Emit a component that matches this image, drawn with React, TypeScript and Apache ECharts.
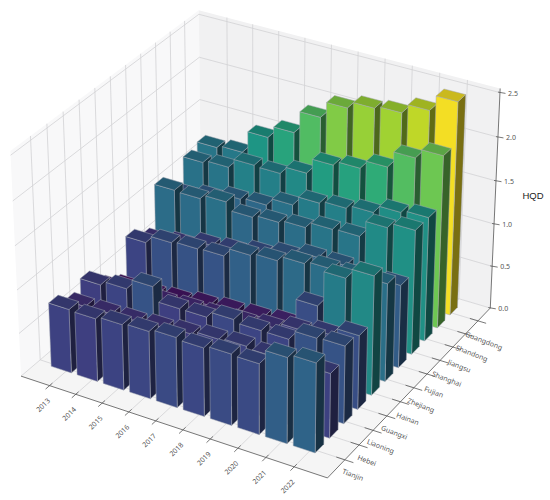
import React, { useEffect, useRef } from "react";
import * as echarts from "echarts";

const years = ["2013", "2014", "2015", "2016", "2017", "2018", "2019", "2020", "2021", "2022"];
const provinces = ["Tianjin", "Hebei", "Liaoning", "Guangxi", "Hainan", "Zhejiang", "Fujian", "Shanghai", "Jiangsu", "Shandong", "Guangdong"];
const zTicks = [0, 0.5, 1, 1.5, 2, 2.5];

const tianjin = [0.74, 0.73, 0.76, 0.78, 0.81, 0.79, 0.82, 0.81, 0.98, 1.02];
const hebei = [0.62, 0.63, 0.64, 0.66, 0.69, 0.73, 0.75, 0.73, 0.72, 0.74];
const liaoning = [0.72, 0.77, 0.89, 0.73, 0.73, 0.8, 0.77, 0.77, 0.88, 0.89];
const guangxi = [0.52, 0.53, 0.55, 0.57, 0.58, 0.6, 0.64, 0.71, 0.76, 0.85];
const hainan = [0.38, 0.4, 0.42, 0.46, 0.49, 0.51, 0.54, 0.84, 1.25, 1.37];
const zhejiang = [0.77, 0.86, 0.88, 0.89, 0.99, 1.02, 1.08, 1.11, 1.12, 1.13];
const fujian = [0.64, 0.69, 0.77, 0.8, 0.86, 0.93, 1.0, 1.0, 0.98, 0.96];
const shanghai = [1.1, 1.09, 1.14, 1.05, 1.08, 1.11, 1.18, 1.19, 1.38, 1.44];
const jiangsu = [0.9, 0.96, 1.03, 1.05, 1.14, 1.25, 1.28, 1.32, 1.41, 1.44];
const shandong = [1.15, 1.18, 1.29, 1.28, 1.37, 1.55, 1.6, 1.7, 1.89, 2.0];
const guangdong = [1.19, 1.22, 1.48, 1.62, 1.88, 2.07, 2.15, 2.18, 2.29, 2.47];
const rows = [tianjin, hebei, liaoning, guangxi, hainan, zhejiang, fujian, shanghai, jiangsu, shandong, guangdong];

const viridis = ["#440154", "#482878", "#3e4989", "#31688e", "#26828e", "#1f9e89", "#35b779", "#6ece58", "#b5de2b", "#fde725"];

// view: matplotlib-like perspective (elev 30, azim -60)
const XLIM = [-1.1, 10.17];
const YLIM = [-1.2, 11];
const ZLIM = [0, 2.546];
const BOX = 1.19;
const BOXZ0 = -0.4465;
const BOXZ = 0.857;
const KX = 2950;
const KY = 3000;
const OX = 260;
const OY = 228;
const DIST = 10;
const U = [0.866, 0.5, 0];
const V = [-0.25, 0.433, 0.866];
const N = [0.433, -0.75, 0.5];

function project(x: number, y: number, z: number): number[] {
  const px = ((x - XLIM[0]) / (XLIM[1] - XLIM[0]) - 0.5) * BOX;
  const py = ((y - YLIM[0]) / (YLIM[1] - YLIM[0]) - 0.5) * BOX;
  const pz = BOXZ0 + ((z - ZLIM[0]) / (ZLIM[1] - ZLIM[0])) * BOXZ;
  const u = U[0] * px + U[1] * py + U[2] * pz;
  const v = V[0] * px + V[1] * py + V[2] * pz;
  const n = N[0] * px + N[1] * py + N[2] * pz;
  const f = 1 / (DIST - n);
  return [u * f, v * f];
}

function hex(c: string): number[] {
  return [1, 3, 5].map((k) => parseInt(c.slice(k, k + 2), 16));
}
function colorFor(v: number): number[] {
  const vmin = 0.3;
  const vmax = 2.47;
  const t = Math.max(0, Math.min(1, (v - vmin) / (vmax - vmin))) * (viridis.length - 1);
  const k = Math.min(viridis.length - 2, Math.floor(t));
  const a = hex(viridis[k]);
  const b = hex(viridis[k + 1]);
  return a.map((q, m) => q + (b[m] - q) * (t - k));
}
function shade(c: number[], s: number): string {
  return `rgb(${c.map((q) => Math.round(q * s)).join(",")})`;
}

const barData: number[][] = [];
for (let j = provinces.length - 1; j >= 0; j--) {
  for (let i = 0; i < years.length; i++) barData.push([i, j, rows[j][i]]);
}

const LABEL_FONT = '"Noto Sans", sans-serif';

export default function App() {
  const ref = useRef<HTMLDivElement>(null);
  useEffect(() => {
    const chart = echarts.init(ref.current!, undefined, { renderer: "svg" });

    const renderBar = (_: any, api: any) => {
      const i = api.value(0);
      const j = api.value(1);
      const v = api.value(2);
      const x0 = i - 0.58, x1 = i + 0.2, y0 = j - 0.15, y1 = j + 0.45;
      const P = (x: number, y: number, z: number) => api.coord(project(x, y, z));
      const c = colorFor(v);
      const edge = { stroke: "rgba(165,170,180,0.7)", lineWidth: 0.7, lineJoin: "round" };
      const face = (pts: number[][], s: number) => ({
        type: "polygon",
        shape: { points: pts },
        style: { fill: shade(c, s), ...edge },
      });
      return {
        type: "group",
        children: [
          face([P(x1, y0, 0), P(x1, y1, 0), P(x1, y1, v), P(x1, y0, v)], 0.48),
          face([P(x0, y0, 0), P(x1, y0, 0), P(x1, y0, v), P(x0, y0, v)], 0.96),
          face([P(x0, y0, v), P(x1, y0, v), P(x1, y1, v), P(x0, y1, v)], 0.8),
        ],
      };
    };

    const renderFrame = (_: any, api: any) => {
      const P = (x: number, y: number, z: number) => api.coord(project(x, y, z));
      const [xa, xb] = XLIM;
      const [ya, yb] = YLIM;
      const [za, zb] = ZLIM;
      const kids: any[] = [];
      const pane = (pts: number[][], fill: string) =>
        kids.push({ type: "polygon", shape: { points: pts }, style: { fill, stroke: "none" } });
      const seg = (a: number[], b: number[], stroke: string, lineWidth: number) =>
        kids.push({ type: "line", shape: { x1: a[0], y1: a[1], x2: b[0], y2: b[1] }, style: { stroke, lineWidth } });
      const label = (p: number[], text: string, rotation: number, size: number, fill: string, font: string) =>
        kids.push({
          type: "text",
          x: p[0],
          y: p[1],
          rotation,
          style: { text, fontSize: size, fontFamily: font, fill, align: "center", verticalAlign: "middle" },
        });
      pane([P(xa, ya, za), P(xa, yb, za), P(xa, yb, zb), P(xa, ya, zb)], "#f8f8f9");
      pane([P(xa, yb, za), P(xb, yb, za), P(xb, yb, zb), P(xa, yb, zb)], "#f1f1f2");
      pane([P(xa, ya, za), P(xb, ya, za), P(xb, yb, za), P(xa, yb, za)], "#f5f5f5");
      const grid = "#d2d2d4";
      years.forEach((_y, i) => {
        seg(P(i, ya, za), P(i, yb, za), grid, 0.8);
        seg(P(i, yb, za), P(i, yb, zb), grid, 0.8);
      });
      provinces.forEach((_p, j) => {
        seg(P(xa, j, za), P(xb, j, za), grid, 0.8);
        seg(P(xa, j, za), P(xa, j, zb), grid, 0.8);
      });
      zTicks.forEach((z) => {
        seg(P(xa, ya, z), P(xa, yb, z), grid, 0.8);
        seg(P(xa, yb, z), P(xb, yb, z), grid, 0.8);
      });
      const axis = "#555";
      seg(P(xa, ya, za), P(xb, ya, za), axis, 0.8);
      seg(P(xb, ya, za), P(xb, yb, za), axis, 0.8);
      seg(P(xb, yb, za), P(xb, yb, zb), axis, 0.8);
      years.forEach((y, i) => {
        const t = P(i, ya, za);
        seg(P(i, ya + 0.18, za), P(i, ya - 0.25, za), axis, 0.8);
        label([t[0] - 6.5, t[1] + 19.5], y, Math.PI / 4, 7, "#555", LABEL_FONT);
      });
      provinces.forEach((name, j) => {
        const t = P(xb, j, za);
        seg(P(xb - 0.3, j, za), P(xb + 0.3, j, za), axis, 0.8);
        label([t[0] + 8 - 0.2 * j, t[1] + 15 + 0.5 * j], name, (-21 * Math.PI) / 180, 7, "#555", LABEL_FONT);
      });
      zTicks.forEach((z) => {
        const t = P(xb, yb, z);
        seg([t[0] - 2, t[1] - 0.5], [t[0] + 5.5, t[1] + 0.8], axis, 0.8);
        label([t[0] + 13, t[1] + 0.5], z.toFixed(1), 0, 7, "#555", LABEL_FONT);
      });
      label(api.coord([(533 - OX) / KX, (OY - 195) / KY]), "HQD", 0, 9.5, "#222", '"Liberation Sans", sans-serif');
      return { type: "group", children: kids };
    };

    chart.setOption({
      animation: false,
      backgroundColor: "#ffffff",
      grid: { left: 0, right: 0, top: 0, bottom: 0 },
      xAxis: { type: "value", show: false, min: -OX / KX, max: (550 - OX) / KX },
      yAxis: { type: "value", show: false, min: (OY - 500) / KY, max: OY / KY },
      series: [
        { type: "custom", silent: true, renderItem: renderFrame, data: [[0, 0]], z: 1 },
        { type: "custom", silent: true, renderItem: renderBar, data: barData, encode: { x: 0, y: 1 }, z: 2 },
      ],
    });
    return () => chart.dispose();
  }, []);
  return <div ref={ref} style={{ position: "absolute", left: 0, top: 0, width: 550, height: 500 }} />;
}
